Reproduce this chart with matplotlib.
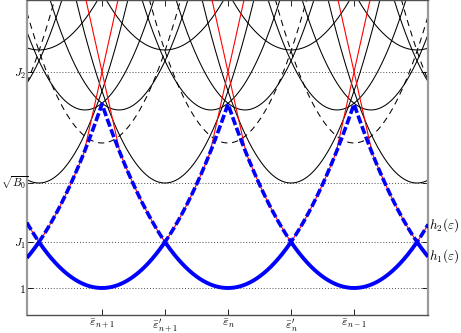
import matplotlib.pyplot as plt
from matplotlib import transforms
import numpy as np

plt.rcParams['mathtext.fontset'] = 'cm'

# centres of the parabolas, in units of the spacing between the eps_k
eps_int = np.array([-2, -1, 0, 1, 2])            # eps_{n+2} ... eps_{n-2}
eps_half = np.array([-2.5, -1.5, -0.5, 0.5, 1.5, 2.5])  # eps'_k

# levels
lev_one = 1.0
J1 = 1.5
sqrtB0 = 2.141
J2 = 3.348
dash_min = 2.576     # black dashed, centred on eps_k
pair_min = 2.935     # black pair near eps_k
pair_shift = 0.135
upper_min = 3.587    # black bowl on eps'_k, near the top

# curvatures
curv_blue = 2.0
curv_black = 4.0
curv_upper = 2.5
red_slope = 6.16

xticks = [-1, -0.5, 0, 0.5, 1]
xlabels = [r'$\bar{\varepsilon}_{n+1}$', r"$\bar{\varepsilon}^{\prime}_{n+1}$",
           r'$\bar{\varepsilon}_n$', r"$\bar{\varepsilon}^{\prime}_n$",
           r'$\bar{\varepsilon}_{n-1}$']
ylevels = [lev_one, J1, sqrtB0, J2]
ylabels = ['$1$', '$J_1$', '', '$J_2$']
sqrt_label = r'$\sqrt{B_0}$'

xmin, xmax = -1.595, 1.587
ymin, ymax = 0.7065, 4.13

x = np.linspace(-1.75, 1.75, 3000)

def par(c, e, k):
    return e + k * (x - c) ** 2

fig = plt.figure(figsize=(4.61, 3.33), dpi=100)
ax = fig.add_axes([27 / 461, 18 / 333, 401 / 461, 315 / 333])

# dotted levels
for lv in ylevels:
    ax.axhline(lv, color='0.3', ls=(0, (1, 2)), lw=0.7, zorder=1)

# black solid curves
for c in eps_half:
    ax.plot(x, par(c, sqrtB0, curv_black), color='k', lw=0.75, zorder=2)
    ax.plot(x, par(c, upper_min, curv_upper), color='k', lw=0.75, zorder=2)
for c in eps_int:
    ax.plot(x, par(c - pair_shift, pair_min, curv_black), color='k', lw=0.75, zorder=2)
    ax.plot(x, par(c + pair_shift, pair_min, curv_black), color='k', lw=0.75, zorder=2)
    ax.plot(x, par(c, dash_min, curv_black), color='k', lw=0.75,
            dashes=(6, 4.5), zorder=2)

# red curves: straight line through (eps_k, J2) joining the neighbour parabola
for c in eps_int:
    m = (x >= c - 0.2) & (x <= c + 0.5)
    r = np.maximum(J2 - red_slope * (x - c), par(c + 1, lev_one, curv_blue))
    ax.plot(x[m], r[m], color='r', lw=0.8, zorder=3)
    m = (x >= c - 0.5) & (x <= c + 0.2)
    r = np.maximum(J2 + red_slope * (x - c), par(c - 1, lev_one, curv_blue))
    ax.plot(x[m], r[m], color='r', lw=0.8, zorder=3)

# h1, h2 : the two lowest blue parabolas
bands = np.sort(np.array([par(c, lev_one, curv_blue) for c in eps_int]), axis=0)
h1, h2 = bands[0], bands[1]
ax.plot(x, h1, color='#0000ff', lw=2.8, zorder=5, solid_capstyle='butt')
ax.plot(x, h2, color='#0000ff', lw=2.6, dashes=(2.3, 0.8), zorder=4)

ax.set_xlim(xmin, xmax)
ax.set_ylim(ymin, ymax)
ax.set_xticks(xticks)
ax.set_xticklabels(xlabels, fontsize=8.5)
ax.set_yticks(ylevels)
ax.set_yticklabels(ylabels, fontsize=8.5)
ax.tick_params(direction='in', length=4, width=0.6, top=True, right=True, pad=1.5)
ax.tick_params(axis='y', pad=0.8)

# sqrt(B0) label is too wide for a tick label, put it at the figure edge
trans = transforms.blended_transform_factory(fig.transFigure, ax.transData)
ax.text(1 / 461, sqrtB0, sqrt_label, transform=trans, fontsize=8,
        va='center', ha='left')

iedge = np.argmin(np.abs(x - xmax))
ax.text(1.003, h2[iedge], r'$h_2(\varepsilon)$', transform=ax.get_yaxis_transform(),
        fontsize=9.5, va='center', ha='left')
ax.text(1.003, h1[iedge], r'$h_1(\varepsilon)$', transform=ax.get_yaxis_transform(),
        fontsize=9.5, va='center', ha='left')

for s in ['left', 'right']:
    ax.spines[s].set_color('#9a9a9a')
    ax.spines[s].set_linewidth(1.6)
for s in ['top', 'bottom']:
    ax.spines[s].set_color('#505050')
    ax.spines[s].set_linewidth(1.0)

fig.savefig('out.png', dpi=100)
